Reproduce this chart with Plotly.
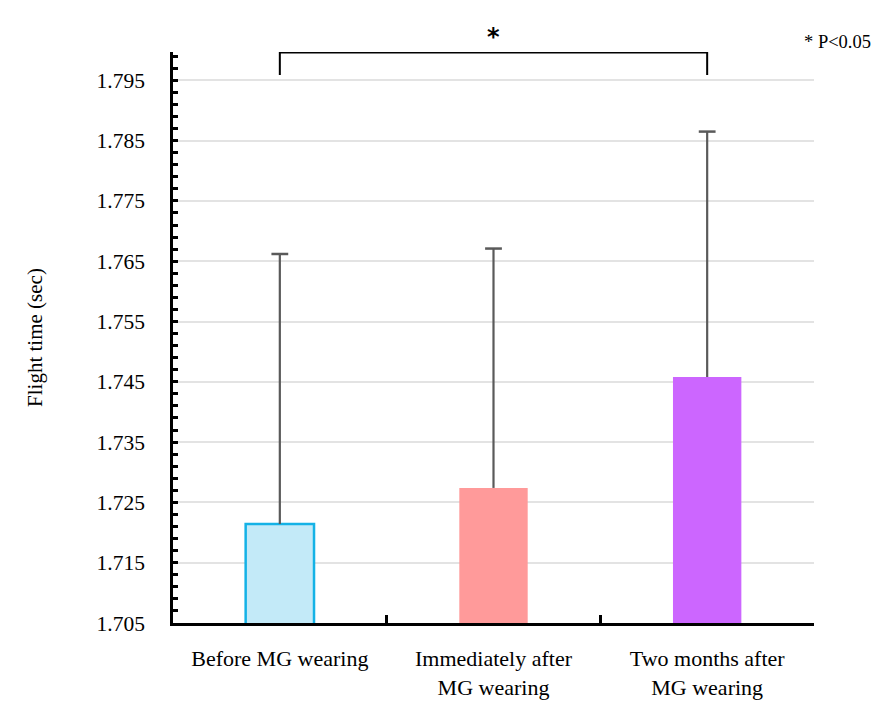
import plotly.graph_objects as go

categories = ["Before MG wearing", "Immediately after<br>MG wearing", "Two months after<br>MG wearing"]
means = [1.7214, 1.7274, 1.7458]
sd_upper = [0.0448, 0.0397, 0.0407]
fill_colors = ["#C3EAF8", "#FF9A9A", "#CC66FF"]
edge_colors = ["#14B2E6", "#FF9A9A", "#CC66FF"]
bracket_y = [1.7959, 1.7996, 1.7996, 1.7959]

FONT = "Liberation Serif"
W, H = 885, 696
L, R, T, B = 165, 79, 44, 81
PH = H - T - B

fig = go.Figure()
fig.add_trace(go.Bar(
    x=categories, y=means,
    marker=dict(color=fill_colors, line=dict(color=edge_colors, width=[2.5, 0, 0])),
    error_y=dict(type="data", array=sd_upper, symmetric=False, arrayminus=[0, 0, 0],
                 color="#5A5A5A", thickness=2.2, width=0),
    width=0.32, showlegend=False,
))
# error bar caps
fig.add_trace(go.Scatter(
    x=categories, y=[m + s for m, s in zip(means, sd_upper)], mode="markers",
    marker=dict(symbol="line-ew", size=12, line=dict(color="#5A5A5A", width=2.5)),
    showlegend=False, hoverinfo="skip", cliponaxis=False,
))

# significance bracket
fig.add_trace(go.Scatter(
    x=[categories[0], categories[0], categories[2], categories[2]], y=bracket_y,
    mode="lines", line=dict(color="black", width=2), cliponaxis=False,
    showlegend=False, hoverinfo="skip",
))

fig.add_annotation(x=0.5, xref="paper", y=1.7996, yref="y", text="<b>*</b>",
                   showarrow=False, yanchor="bottom", yshift=0,
                   font=dict(family="DejaVu Sans", size=24, color="black"))
fig.add_annotation(x=1.0, xref="paper", xshift=-12, y=1 + 10 / PH, yref="paper", text="* P<0.05",
                   showarrow=False, xanchor="left", yanchor="middle",
                   font=dict(family=FONT, size=18.5, color="black"))

fig.update_layout(
    width=W, height=H,
    margin=dict(l=L, r=R, t=T, b=B, autoexpand=False),
    paper_bgcolor="white", plot_bgcolor="white",
    font=dict(family=FONT, size=22, color="black"),
    bargap=0.68,
)

fig.update_xaxes(
    showline=True, linecolor="black", linewidth=2.5,
    ticks="inside", tickson="boundaries", ticklen=8, tickwidth=2.5, tickcolor="black",
    showgrid=False, tickfont=dict(family=FONT, size=22, color="black"),
    ticklabelstandoff=14, automargin=False,
    range=[-0.5, 2.5],
)
fig.update_yaxes(
    range=[1.705, 1.7997],
    showline=True, linecolor="black", linewidth=2.5,
    ticks="inside", ticklen=5, tickwidth=2.5, tickcolor="black",
    tick0=1.705, dtick=0.01, tickformat=".3f",
    showgrid=True, gridcolor="#E3E3E3", gridwidth=2,
    zeroline=False, automargin=False,
    minor=dict(ticks="inside", ticklen=5, tickwidth=2.5, tickcolor="black", dtick=0.002, tick0=1.705, showgrid=False),
    ticklabelstandoff=21,
    tickfont=dict(family=FONT, size=21.5, color="black"),
    title=dict(text="Flight time (sec)", font=dict(family=FONT, size=21, color="black"), standoff=49),
)

fig.write_html("out.html")
